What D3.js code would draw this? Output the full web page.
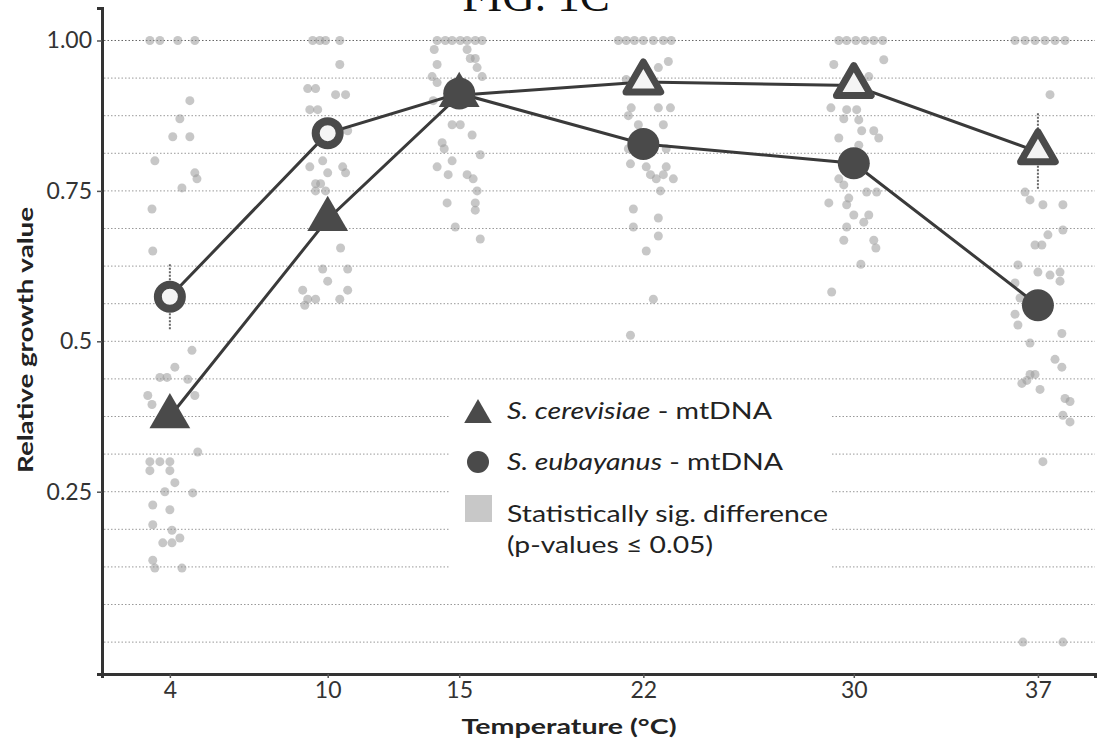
<!DOCTYPE html>
<html><head><meta charset="utf-8">
<script src="https://cdn.jsdelivr.net/npm/d3@7"></script>
<style>body{margin:0;background:#fff}svg{display:block}</style>
</head><body>
<svg id="c" width="1109" height="748"></svg>
<script>
const temps = [4, 10, 15, 22, 30, 37];
const cerevisiae = [0.375, 0.703, 0.909, 0.931, 0.925, 0.815];
const eubayanus  = [0.574, 0.846, 0.912, 0.828, 0.796, 0.560];
const cerErr = [0.015, 0.015, 0.015, 0.015, 0.015, 0.064];
const eubErr = [0.054, 0.015, 0.015, 0.015, 0.015, 0.015];
// which marker is drawn hollow (statistically significant difference)
const cerSig = [false, false, false, true, true, true];
const eubSig = [true, true, false, false, false, false];
const yTicks = [0.25, 0.5, 0.75, 1.0];
const yTickLabels = ["0.25", "0.5", "0.75", "1.00"];
const gridValues = d3.range(0, 17).map(i => i * 0.0625);
// individual replicates: [jitter in °C, value]
const pts4 = [[-0.76,1],[-0.38,1],[0.30,1],[0.95,1],[0.76,0.90],[0.38,0.87],[0.11,0.84],[0.76,0.84],[-0.57,0.80],[0.95,0.78],[1.03,0.77],[0.46,0.755],[-0.68,0.72],[-0.65,0.65],[0.84,0.485],[0.19,0.457],[-0.38,0.44],[-0.11,0.44],[0.68,0.437],[-0.84,0.41],[-0.68,0.395],[0.95,0.41],[1.06,0.316],[-0.76,0.30],[-0.38,0.30],[0,0.30],[-0.76,0.285],[0,0.285],[0.19,0.265],[-0.19,0.25],[0.87,0.248],[-0.65,0.228],[0,0.22],[-0.65,0.195],[0.08,0.186],[0.38,0.173],[-0.27,0.165],[0.08,0.165],[-0.65,0.136],[-0.57,0.123],[0.46,0.123]];
const pts10 = [[-0.57,1],[-0.30,1],[-0.08,1],[0.46,1],[0.46,0.96],[-0.76,0.92],[-0.46,0.92],[0.30,0.91],[0.68,0.91],[-0.68,0.885],[-0.38,0.885],[0.76,0.85],[-0.19,0.80],[-0.68,0.79],[0.57,0.79],[0,0.78],[0.68,0.78],[-0.46,0.762],[-0.27,0.762],[-0.46,0.75],[-0.08,0.75],[0,0.71],[0.49,0.655],[-0.19,0.62],[0.76,0.62],[0,0.60],[-0.95,0.585],[0.76,0.585],[-0.76,0.57],[-0.46,0.57],[0.46,0.57],[-0.87,0.56]];
const pts15 = [[-0.84,1],[-0.53,1],[-0.27,1],[0.04,1],[0.30,1],[0.61,1],[0.87,1],[-0.95,0.985],[0.30,0.985],[0.42,0.97],[0.61,0.97],[-0.84,0.96],[0.68,0.955],[-1.03,0.94],[0.87,0.94],[-0.84,0.93],[-0.99,0.90],[-0.27,0.86],[0.04,0.86],[0.49,0.843],[-0.65,0.83],[-0.57,0.82],[0.80,0.81],[-0.27,0.80],[-0.84,0.79],[-0.42,0.777],[0.30,0.777],[0.53,0.77],[0.68,0.75],[-0.46,0.73],[0.61,0.73],[0.61,0.718],[-0.15,0.69],[0.80,0.67]];
const pts22 = [[-0.95,1],[-0.65,1],[-0.34,1],[0,1],[0.38,1],[0.76,1],[1.06,1],[0.95,0.965],[0.57,0.955],[-0.65,0.935],[-0.46,0.888],[0.57,0.888],[1.03,0.888],[-0.57,0.875],[-0.19,0.86],[0.76,0.86],[-0.38,0.835],[-0.57,0.82],[0.87,0.82],[-0.49,0.795],[0.11,0.79],[0.87,0.79],[0.27,0.777],[0.76,0.777],[0.49,0.77],[1.14,0.77],[0.65,0.75],[-0.38,0.72],[0.57,0.705],[-0.38,0.69],[0.57,0.675],[0.11,0.65],[0.38,0.57],[-0.49,0.51]];
const pts30 = [[-0.57,1],[-0.27,1],[0.08,1],[0.42,1],[0.76,1],[1.10,1],[1.14,0.968],[-0.76,0.96],[0.57,0.94],[-0.87,0.888],[-0.27,0.885],[0.11,0.885],[-0.38,0.87],[0.19,0.868],[0.30,0.85],[0.76,0.85],[-0.57,0.838],[0.95,0.838],[0.19,0.826],[-0.57,0.77],[-0.38,0.76],[0.49,0.748],[0.87,0.748],[-0.19,0.738],[-0.95,0.73],[-0.27,0.727],[0,0.71],[0.57,0.71],[0.38,0.698],[-0.27,0.69],[-0.38,0.668],[0.76,0.668],[0.84,0.655],[0.27,0.628],[-0.84,0.582]];
const pts37 = [[-0.87,1],[-0.49,1],[-0.11,1],[0.27,1],[0.65,1],[1.03,1],[0.46,0.91],[-0.49,0.748],[-0.30,0.735],[0.19,0.727],[0.95,0.727],[0.95,0.685],[0.38,0.677],[-0.11,0.66],[0.15,0.66],[-0.76,0.627],[0,0.615],[0.84,0.615],[0.46,0.61],[0.84,0.60],[-0.87,0.597],[-0.68,0.572],[-0.23,0.545],[-0.87,0.545],[-0.76,0.527],[0.91,0.513],[-0.30,0.497],[0.65,0.47],[0.91,0.457],[-0.11,0.445],[-0.30,0.445],[-0.42,0.435],[-0.61,0.43],[0.08,0.42],[1.03,0.405],[1.22,0.40],[0.95,0.377],[1.22,0.366],[0.19,0.30],[-0.57,0.0],[0.95,0.0]];
const replicates = [pts4, pts10, pts15, pts22, pts30, pts37];

const svg = d3.select("#c");
const x = d3.scaleLinear().domain([1.42, 39.17]).range([102, 1095]);
const y = d3.scaleLinear().domain([-0.053, 1.054]).range([674, 8]);
const sans = "Lato, 'Open Sans', sans-serif";

// title (cut at top, as in the source figure)
svg.append("text").attr("x", 536).attr("y", 11).attr("text-anchor", "middle")
  .attr("font-family", "'Liberation Serif', serif").attr("font-size", 45).attr("fill", "#111")
  .text("FIG. 1C");

// grid
svg.append("g").selectAll("line").data(gridValues).join("line")
  .attr("x1", 104).attr("x2", 1095).attr("y1", d => y(d)).attr("y2", d => y(d))
  .attr("stroke", d => d === 1 ? "#666" : "#999").attr("stroke-width", 1)
  .attr("stroke-dasharray", "1.5,2");

// replicate points
const rp = svg.append("g");
replicates.forEach((arr, i) => {
  rp.selectAll(null).data(arr).join("circle")
    .attr("cx", d => x(temps[i] + d[0])).attr("cy", d => y(d[1])).attr("r", 4.5)
    .attr("fill", "#999").attr("fill-opacity", 0.55);
});

// legend background
svg.append("rect").attr("x", 450).attr("y", 393).attr("width", 382).attr("height", 178).attr("fill", "#fff");

// error bars
function errBars(vals, errs) {
  svg.append("g").selectAll("line").data(vals).join("line")
    .attr("x1", (d, i) => x(temps[i])).attr("x2", (d, i) => x(temps[i]))
    .attr("y1", (d, i) => y(d + errs[i])).attr("y2", (d, i) => y(d - errs[i]))
    .attr("stroke", "#666").attr("stroke-width", 2).attr("stroke-dasharray", "2,1.5");
}
errBars(cerevisiae, cerErr);
errBars(eubayanus, eubErr);

// lines
const line = d3.line().x((d, i) => x(temps[i])).y(d => y(d));
svg.append("path").datum(cerevisiae).attr("d", line).attr("fill", "none").attr("stroke", "#3a3a3a").attr("stroke-width", 3);
svg.append("path").datum(eubayanus).attr("d", line).attr("fill", "none").attr("stroke", "#3a3a3a").attr("stroke-width", 3);

const tri = d3.symbol().type(d3.symbolTriangle);
const markerFill = "#4a4a4a";
// triangles
svg.append("g").selectAll("path").data(cerevisiae).join("path")
  .attr("transform", (d, i) => `translate(${x(temps[i])},${y(d)})`)
  .attr("d", (d, i) => tri.size(cerSig[i] ? 520 : 720)())
  .attr("fill", (d, i) => cerSig[i] ? "#f4f4f4" : markerFill)
  .attr("stroke", markerFill).attr("stroke-width", (d, i) => cerSig[i] ? 7 : 0)
  .attr("stroke-linejoin", "round");
// circles
svg.append("g").selectAll("circle").data(eubayanus).join("circle")
  .attr("cx", (d, i) => x(temps[i])).attr("cy", d => y(d))
  .attr("r", (d, i) => eubSig[i] ? 12 : 16)
  .attr("fill", (d, i) => eubSig[i] ? "#f4f4f4" : markerFill)
  .attr("stroke", markerFill).attr("stroke-width", (d, i) => eubSig[i] ? 8 : 0);

// axes
const yAxis = d3.axisLeft(y).tickValues(yTicks).tickFormat((d, i) => yTickLabels[i]).tickSize(5).tickPadding(5);
const gy = svg.append("g").attr("transform", "translate(102,0)").call(yAxis);
gy.select(".domain").attr("stroke", "#333").attr("stroke-width", 3);
gy.selectAll(".tick line").attr("stroke", "#555").attr("stroke-width", 1.5);
gy.selectAll(".tick text").attr("font-family", sans).attr("font-size", 23).attr("fill", "#333");

const xAxis = d3.axisBottom(x).tickValues(temps).tickFormat(d3.format("d")).tickSize(4).tickPadding(4);
const gx = svg.append("g").attr("transform", "translate(0,674)").call(xAxis);
gx.select(".domain").attr("stroke", "#333").attr("stroke-width", 3);
gx.selectAll(".tick line").attr("stroke", "#555").attr("stroke-width", 1.5);
gx.selectAll(".tick text").attr("font-family", sans).attr("font-size", 23).attr("fill", "#333");

// axis titles
svg.append("text").attr("transform", "translate(33,340) rotate(-90)").attr("text-anchor", "middle")
  .attr("font-family", sans).attr("font-weight", "bold").attr("font-size", 21).attr("fill", "#222")
  .attr("textLength", 266).attr("lengthAdjust", "spacingAndGlyphs")
  .text("Relative growth value");
svg.append("text").attr("x", 569).attr("y", 734).attr("text-anchor", "middle")
  .attr("font-family", sans).attr("font-weight", "bold").attr("font-size", 21).attr("fill", "#222")
  .attr("textLength", 215).attr("lengthAdjust", "spacingAndGlyphs")
  .text("Temperature (°C)");

// legend
const lg = svg.append("g").attr("font-family", sans).attr("font-size", 23).attr("fill", "#222");
lg.append("path").attr("transform", "translate(478,415)").attr("d", tri.size(330)()).attr("fill", markerFill);
lg.append("circle").attr("cx", 478).attr("cy", 462).attr("r", 11).attr("fill", markerFill);
lg.append("rect").attr("x", 465).attr("y", 495).attr("width", 27).attr("height", 27).attr("fill", "#c8c8c8");
const t1 = lg.append("text").attr("x", 507).attr("y", 419).attr("textLength", 265).attr("lengthAdjust", "spacingAndGlyphs");
t1.append("tspan").attr("font-style", "italic").text("S. cerevisiae");
t1.append("tspan").text(" - mtDNA");
const t2 = lg.append("text").attr("x", 507).attr("y", 470).attr("textLength", 276).attr("lengthAdjust", "spacingAndGlyphs");
t2.append("tspan").attr("font-style", "italic").text("S. eubayanus");
t2.append("tspan").text(" - mtDNA");
lg.append("text").attr("x", 507).attr("y", 522).attr("textLength", 321).attr("lengthAdjust", "spacingAndGlyphs").text("Statistically sig. difference");
lg.append("text").attr("x", 507).attr("y", 553).attr("textLength", 206).attr("lengthAdjust", "spacingAndGlyphs").text("(p-values ≤ 0.05)");
</script>
</body></html>
